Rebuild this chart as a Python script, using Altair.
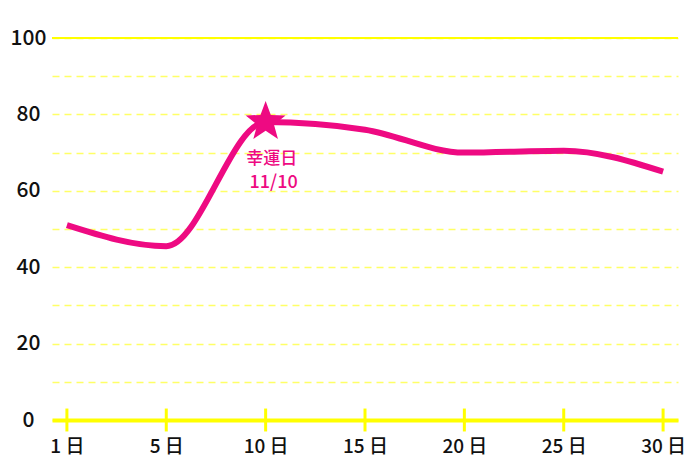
import altair as alt
import pandas as pd

days = ["1日", "5日", "10日", "15日", "20日", "25日", "30日"]
values = [51, 45.5, 78, 76, 70, 70.5, 65]
lucky_day = "10日"
note_top = "幸運日"
note_bottom = "11/10"

PINK = "#EE0A82"
YEL = "#FFFF00"
FONT = "Noto Sans CJK JP"
STAR_PATH = ("M0,-1L0.247,-0.34L0.951,-0.309L0.399,0.13L0.588,0.809L0,0.42"
             "L-0.588,0.809L-0.399,0.13L-0.951,-0.309L-0.247,-0.34Z")

df = pd.DataFrame({"day": days, "value": values})
df["lucky"] = [1 if d == lucky_day else 0 for d in days]
df["note1"] = [note_top if d == lucky_day else "" for d in days]
df["note2"] = [note_bottom if d == lucky_day else "" for d in days]

xlabel_expr = "replace(datum.label, '日', ' 日')"

X = alt.X("day:O", sort=None,
          scale=alt.Scale(type="point", padding=0.15),
          axis=alt.Axis(title=None, orient="bottom", domain=True, domainColor=YEL,
                        domainWidth=4, ticks=False, labelPadding=17, labelFontSize=19,
                        labelFont=FONT, labelFontWeight=500, labelColor="#111",
                        labelAngle=0, labelExpr=xlabel_expr, grid=False))
YSCALE = alt.Scale(domain=[0, 100], nice=False)
YAXIS = alt.Axis(title=None, domain=False, ticks=False,
                 values=list(range(0, 101, 10)),
                 labelExpr="datum.value % 20 == 0 ? datum.label : ''",
                 labelAlign="center", labelPadding=24, labelFontSize=21,
                 labelFont=FONT, labelFontWeight=500, labelColor="#111",
                 grid=True, gridColor="#FFFF66", gridDash=[7, 5], gridWidth=1.5)
Y = alt.Y("value:Q", scale=YSCALE, axis=YAXIS)

base = alt.Chart(df)

line = base.mark_line(color=PINK, strokeWidth=6, interpolate="monotone").encode(x=X, y=Y)

top_rule = base.transform_calculate(top="100").mark_rule(
    color=YEL, strokeWidth=2).encode(y=alt.Y("top:Q", scale=YSCALE, axis=YAXIS))

ticks = base.transform_calculate(lo="-3", hi="3").mark_rule(
    color=YEL, strokeWidth=3).encode(
    x=X, y=alt.Y("lo:Q", scale=YSCALE, axis=YAXIS), y2=alt.Y2("hi:Q"))

star = base.mark_point(shape=STAR_PATH, filled=True, color=PINK, size=1760).encode(
    x=X, y=Y,
    opacity=alt.Opacity("lucky:Q", scale=None, legend=None))

note1 = base.mark_text(color=PINK, font=FONT, fontSize=17, fontWeight=500,
                       dx=6, dy=37).encode(x=X, y=Y, text="note1:N")
note2 = base.mark_text(color=PINK, font=FONT, fontSize=18, fontWeight=500,
                       dx=8, dy=61).encode(x=X, y=Y, text="note2:N")

chart = alt.layer(line, top_rule, ticks, star, note1, note2).properties(
    width=626, height=382,
    autosize=alt.AutoSizeParams(type="none"),
    padding={"left": 44, "top": 30, "right": 14, "bottom": 42},
    background="white",
).configure_view(stroke=None)

chart.save("out.html", embed_options={"renderer": "svg", "actions": False})
